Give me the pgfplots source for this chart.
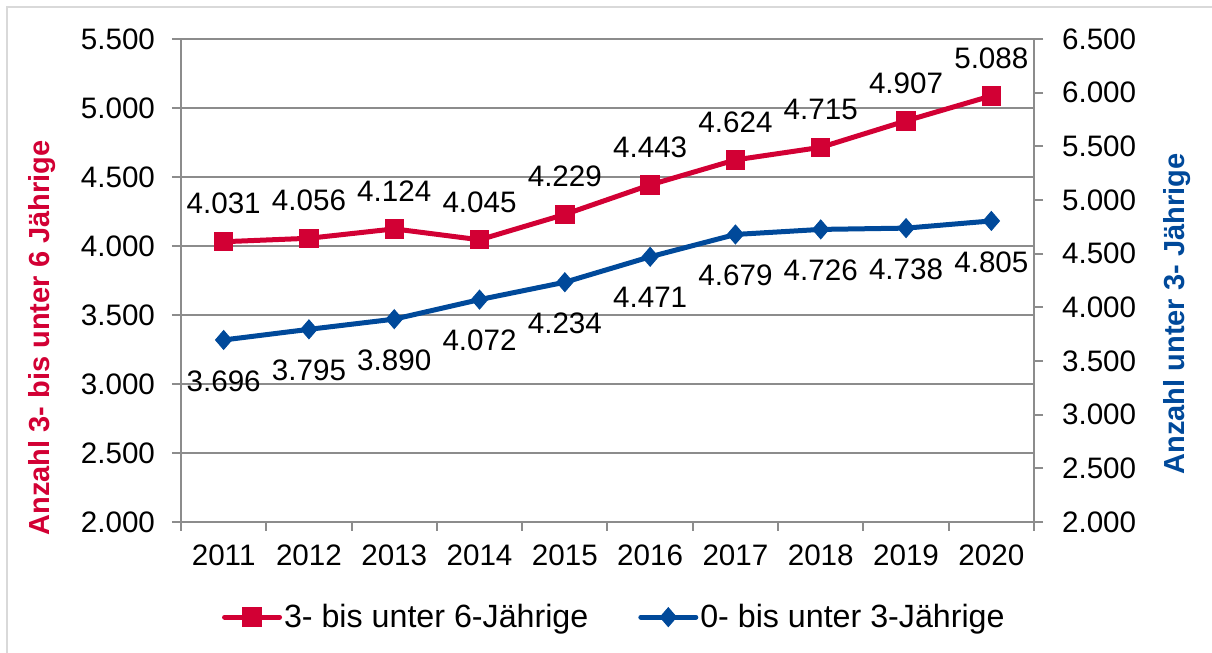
\documentclass[border=0pt]{standalone}
\usepackage{fontspec}
\setmainfont{Liberation Sans}
\usepackage{pgfplots}
\pgfplotsset{compat=1.18}
\definecolor{cred}{HTML}{D20034}
\definecolor{cblue}{HTML}{00499A}
\definecolor{cgrid}{HTML}{8C8C8C}
\definecolor{cframe}{HTML}{D9D9D9}
\pgfplotsset{
  base/.style={
    width=426.5pt, height=241.5pt, scale only axis,
    at={(0pt,0pt)}, anchor=south west,
    xmin=-0.5, xmax=9.5,
    ymin=2000,
    clip=false,
    tick align=outside,
    major tick length=4.5pt,
    axis line style={cgrid, line width=1pt},
    tick style={cgrid, line width=1pt},
    point meta=explicit symbolic,
    nodes near coords,
  }
}
\begin{document}
\begin{tikzpicture}[font=\fontsize{14.8}{17.5}\selectfont]
\useasboundingbox (-90.5pt,-65.5pt) rectangle (515.5pt,261pt);
\draw[cframe, line width=1pt] (-87pt,-70pt) -- (-87pt,257.5pt) -- (520pt,257.5pt);
\begin{axis}[base,
  ymax=5500,
  axis y line*=left, axis x line*=bottom,
  xtick={-0.5,0.5,...,9.5},
  x tick label as interval,
  xticklabels={2011,2012,2013,2014,2015,2016,2017,2018,2019,2020},
  xticklabel style={yshift=-3.3pt},
  ytick={2000,2500,...,5500},
  yticklabels={2.000,2.500,3.000,3.500,4.000,4.500,5.000,5.500},
  yticklabel style={xshift=-5pt},
  ymajorgrids,
  grid style={cgrid, line width=1pt},
  ylabel={Anzahl 3- bis unter 6 Jährige},
  ylabel style={at={(axis description cs:-0.163,0.381)}, anchor=center, text=cred, font=\fontsize{14.5}{17}\selectfont\bfseries},
  every node near coord/.append style={anchor=south, inner sep=0pt, yshift=13.5pt, text=black},
  legend style={at={(axis description cs:0.508,-0.197)}, anchor=center, draw=none, fill=none,
    inner sep=0pt, font=\fontsize{16.1}{19}\selectfont,
    nodes={inner sep=1pt},
    /tikz/every even column/.append style={column sep=24pt}},
  legend columns=2,
  legend image code/.code={\draw[mark repeat=2, mark phase=2, line cap=round] plot coordinates {(0pt,0pt) (13.75pt,0pt) (27.5pt,0pt)};},
]
\addplot[cred, line width=2.5pt, mark=square*, mark size=4.6pt, mark options={solid, line width=0.5pt}]
coordinates {(0,4031)[4.031] (1,4056)[4.056] (2,4124)[4.124] (3,4045)[4.045] (4,4229)[4.229]
(5,4443)[4.443] (6,4624)[4.624] (7,4715)[4.715] (8,4907)[4.907] (9,5088)[5.088]};
\addlegendentry{3- bis unter 6-Jährige}
\addlegendimage{cblue, line width=2.5pt, mark=diamond*, mark size=4.7pt, mark options={solid, line width=0.5pt, xscale=1.15}}
\addlegendentry{0- bis unter 3-Jährige}
\end{axis}
\begin{axis}[base,
  ymax=6500,
  axis y line*=right, axis x line=none,
  xtick=\empty,
  ytick={2000,2500,...,6500},
  yticklabels={2.000,2.500,3.000,3.500,4.000,4.500,5.000,5.500,6.000,6.500},
  yticklabel style={xshift=6pt},
  ylabel={Anzahl unter 3- Jährige},
  ylabel style={at={(axis description cs:1.1677,0.4306)}, anchor=center, text=cblue, font=\fontsize{14.5}{17}\selectfont\bfseries},
  every node near coord/.append style={anchor=north, inner sep=0pt, yshift=-15pt, text=black},
]
\addplot[cblue, line width=2.5pt, mark=diamond*, mark size=4.7pt, mark options={solid, line width=0.5pt, xscale=1.15}]
coordinates {(0,3696)[3.696] (1,3795)[3.795] (2,3890)[3.890] (3,4072)[4.072] (4,4234)[4.234]
(5,4471)[4.471] (6,4679)[4.679] (7,4726)[4.726] (8,4738)[4.738] (9,4805)[4.805]};
\end{axis}
\end{tikzpicture}
\end{document}
